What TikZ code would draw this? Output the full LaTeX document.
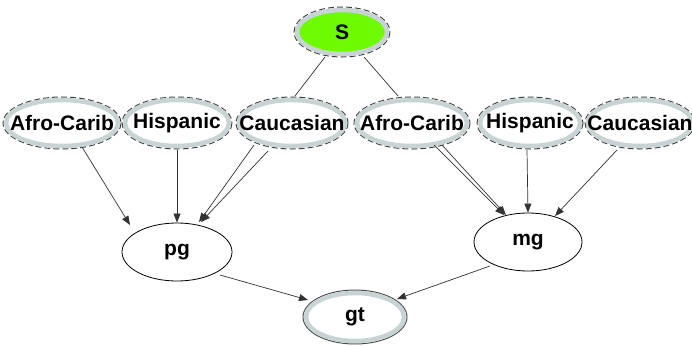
\documentclass[tikz,border=0pt]{standalone}
\usepackage{fontspec}
\setmainfont{Liberation Sans}
\usetikzlibrary{shapes.geometric,arrows.meta,calc}
\definecolor{ring}{RGB}{200,212,212}
\definecolor{sgreen}{RGB}{110,250,0}
\tikzset{
  lbl/.style={font=\fontsize{21}{23}\selectfont\bfseries,inner sep=0pt},
  plain/.style={ellipse,draw=black,line width=0.8pt,fill=white,inner sep=0pt},
  ringed/.style={ellipse,draw=ring,line width=4.5pt,fill=white,inner sep=0pt},
  dashring/.style={draw=black!75,dashed,dash pattern=on 6pt off 3pt,line width=1pt},
  edge/.style={draw=black!80,line width=0.7pt,-{Triangle[length=9pt,width=7pt]}},
  bare/.style={draw=black!80,line width=0.7pt},
}
\newcommand\gnode[6]{% name, x, y, rx, ry, text
  \draw[dashring] (#2,#3) ellipse [x radius=#4, y radius=#5];
  \node[ringed,minimum width={2*(#4-3)},minimum height={2*(#5-3)}] (#1) at (#2,#3) {};
  \node[lbl] (#1-t) at (#2,#3) {#6};
}
\begin{document}
\begin{tikzpicture}[x=1pt,y=-1pt]
\useasboundingbox (0,0) rectangle (692,345);
% S
\draw[dashring] (342,32) ellipse [x radius=48, y radius=25];
\node[ringed,fill=sgreen,minimum width=90,minimum height=44] (S) at (342,32) {};
\node[lbl] (S-t) at (342,32) {S};
% top row
\gnode{ac1}{62}{123}{59}{26}{Afro-Carib}
\gnode{h1}{177}{123}{55}{26}{Hispanic}
\gnode{c1}{292}{123}{56}{26}{Caucasian}
\gnode{ac2}{412}{123}{58}{26}{Afro-Carib}
\gnode{h2}{530}{123}{53}{26}{Hispanic}
\gnode{c2}{640}{123}{55}{26}{Caucasian}
% middle
\node[plain,minimum width=110,minimum height=58] (pg) at (177,252) {};
\node[lbl] (pg-t) at (177,252) {pg};
\node[plain,minimum width=108,minimum height=58] (mg) at (528,242) {};
\node[lbl] (mg-t) at (528,242) {mg};
% gt
\draw[draw=black!70,line width=1pt] (355,317) ellipse [x radius=52, y radius=27];
\node[ringed,minimum width=98,minimum height=48] (gt) at (355,317) {};
\node[lbl] (gt-t) at (355,317) {gt};
% edges
\path[bare] ($(S.center)+(-17,25)$) -- ($(c1.center)+(3,-27)$);
\path[bare] ($(S.center)+(22,25)$) -- ($(ac2.center)+(-14,-27)$);
\path[edge] ($(ac1.center)+(20,24)$) -- (130,225);
\path[edge] (h1.center|-0,150) -- (pg.north);
\path[edge] ($(c1.center)+(-38,22)$) -- (199,222);
\path[edge] ($(c1.center)+(-24,28)$) -- (201,222);
\path[edge] ($(ac2.center)+(22,22)$) -- (504,215);
\path[edge] ($(ac2.center)+(30,22)$) -- (506,215);
\path[edge] (527,150) -- (mg.north);
\path[edge] ($(c2.center)+(-23,27)$) -- (555,216);
\path[edge] (220,275) -- (308,300);
\path[edge] (490,266) -- (397,299);
\end{tikzpicture}
\end{document}
